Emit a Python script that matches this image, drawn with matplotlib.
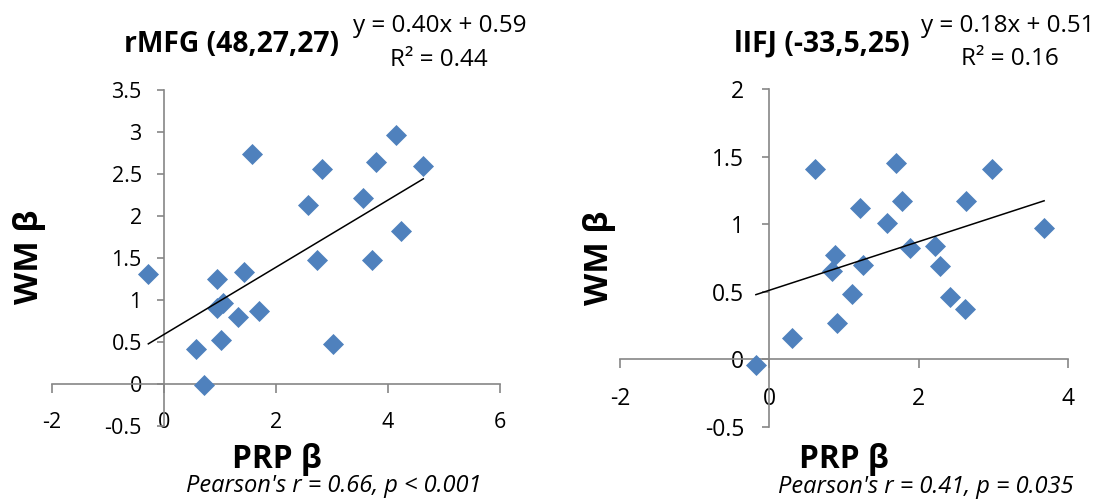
import numpy as np
import matplotlib
matplotlib.use("Agg")
import matplotlib.pyplot as plt

plt.rcParams['font.family'] = ['Open Sans', 'DejaVu Sans']

# ---- data: rMFG (left panel) ----
rmfg_prp = [-0.28, 0.58, 0.72, 0.95, 1.01, 0.95, 1.06, 1.32, 1.42, 1.58,
            1.70, 2.57, 2.73, 2.83, 3.01, 3.56, 3.71, 3.78, 4.15, 4.23, 4.63]
rmfg_wm = [1.31, 0.42, -0.01, 1.25, 0.52, 0.90, 0.96, 0.80, 1.33, 2.74,
           0.87, 2.13, 1.48, 2.56, 0.48, 2.22, 1.48, 2.64, 2.96, 1.82, 2.60]
rmfg_slope, rmfg_icpt = 0.40, 0.59

# ---- data: lIFJ (right panel) ----
lifj_prp = [-0.18, 0.30, 0.61, 0.84, 0.88, 0.90, 1.105, 1.22, 1.25, 1.58,
            1.70, 1.78, 1.89, 2.22, 2.28, 2.42, 2.62, 2.63, 2.98, 3.68]
lifj_wm = [-0.04, 0.155, 1.41, 0.65, 0.77, 0.27, 0.48, 1.12, 0.70, 1.01,
           1.45, 1.17, 0.82, 0.84, 0.69, 0.46, 0.37, 1.17, 1.41, 0.97]
lifj_slope, lifj_icpt = 0.18, 0.51

left_xticks = [-2, 0, 2, 4, 6]
left_yticks = [-0.5, 0, 0.5, 1, 1.5, 2, 2.5, 3, 3.5]
right_xticks = [-2, 0, 2, 4]
right_yticks = [-0.5, 0, 0.5, 1, 1.5, 2]

W, H = 1099, 500
fig = plt.figure(figsize=(W / 100, H / 100), dpi=100)

BLUE = '#4F81BD'
GREY = '#868686'


def setup(ax, xt, yt, ypad, xpad, fs):
    ax.set_xlim(xt[0], xt[-1])
    ax.set_ylim(yt[0], yt[-1])
    ax.set_xticks(xt)
    ax.set_yticks(yt)
    ax.set_xticklabels([f"{v:g}" for v in xt])
    ax.set_yticklabels([f"{v:g}" for v in yt])
    for s in ('top', 'right'):
        ax.spines[s].set_visible(False)
    ax.spines['left'].set_position(('data', 0))
    ax.spines['bottom'].set_position(('data', 0))
    for s in ('left', 'bottom'):
        ax.spines[s].set_color(GREY)
        ax.spines[s].set_linewidth(1.2)
    ax.tick_params(axis='both', direction='out', color=GREY, width=1.2,
                   labelsize=fs)
    ax.tick_params(axis='x', length=6.5, pad=xpad)
    ax.tick_params(axis='y', length=5, pad=ypad)
    ax.patch.set_alpha(0)


def panel(rect, xs, ys, slope, icpt, xt, yt, ypad, xpad, fs):
    ax = fig.add_axes(rect)
    setup(ax, xt, yt, ypad, xpad, fs)
    ax.scatter(xs, ys, marker='D', s=115, color=BLUE, linewidths=0, zorder=3,
               clip_on=False)
    lx = np.array([min(xs), max(xs)])
    ax.plot(lx, slope * lx + icpt, color='black', lw=1.1, zorder=4)
    return ax


panel([52 / W, 1 - 426 / H, 448 / W, 336 / H], rmfg_prp, rmfg_wm,
      rmfg_slope, rmfg_icpt, left_xticks, left_yticks, 11, 13.5, 15.5)
panel([620 / W, 1 - 426.7 / H, 448 / W, 337.7 / H], lifj_prp, lifj_wm,
      lifj_slope, lifj_icpt, right_xticks, right_yticks, 13, 13.5, 16.5)


def ftext(x, y, s, **kw):
    fig.text(x / W, 1 - y / H, s, ha='center', va='center', **kw)


# titles
ftext(232, 44, 'rMFG (48,27,27)', fontsize=20.3, fontweight='bold')
ftext(822, 44, 'lIFJ (-33,5,25)', fontsize=20.3, fontweight='bold')
# trendline equations
ftext(440, 26, 'y = 0.40x + 0.59', fontsize=17.5)
ftext(439, 60, 'R² = 0.44', fontsize=17.5)
ftext(1008, 26, 'y = 0.18x + 0.51', fontsize=17.5)
ftext(1010, 59, 'R² = 0.16', fontsize=17.5)
# axis titles
ftext(29, 257, 'WM β', fontsize=24, fontweight='bold', rotation=90)
ftext(599, 258, 'WM β', fontsize=24, fontweight='bold', rotation=90)
ftext(277, 460, 'PRP β', fontsize=22.8, fontweight='bold')
ftext(844, 459, 'PRP β', fontsize=22.8, fontweight='bold')
# correlation notes
ftext(334, 486, "Pearson's r = 0.66, p < 0.001", fontsize=17, style='italic')
ftext(926, 487, "Pearson's r = 0.41, p = 0.035", fontsize=17, style='italic')

fig.savefig('out.png', dpi=100)
